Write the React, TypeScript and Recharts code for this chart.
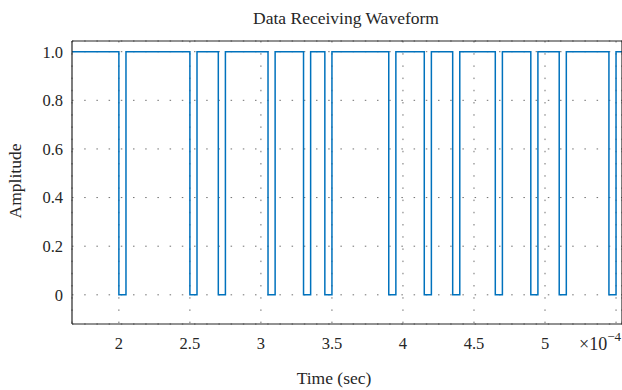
import { CartesianGrid, Line, LineChart, XAxis, YAxis } from 'recharts';

// edge times (x10^-4 s) and the level held after each edge
const edgeTimes = [
  1.67, 2.0, 2.05, 2.5, 2.55, 2.7, 2.75, 3.05, 3.1, 3.3, 3.35, 3.45, 3.5, 3.9,
  3.95, 4.15, 4.2, 4.35, 4.4, 4.65, 4.7, 4.9, 4.95, 5.1, 5.15, 5.45, 5.5, 5.542,
];
const edgeLevels = [
  1, 0, 1, 0, 1, 0, 1, 0, 1, 0, 1, 0, 1, 0, 1, 0, 1, 0, 1, 0, 1, 0, 1, 0, 1, 0,
  1, 1,
];
const xTicks = [2, 2.5, 3, 3.5, 4, 4.5, 5, 5.5];
const yTicks = [0, 0.2, 0.4, 0.6, 0.8, 1.0];
// the right end of the axes lies just past the picture's edge
const xDomain = [1.67, 5.542];
const yDomain = [-0.12, 1.044];

const data = edgeTimes.map((t, i) => ({ t, v: edgeLevels[i] }));

const FONT = '"Liberation Serif", "DejaVu Serif", serif';
const AXIS = '#262626';
const tickFont = { fill: '#262626', fontSize: 16.5, fontFamily: FONT };

export default function App() {
  return (
    <div style={{ position: 'absolute', left: 0, top: 0, background: '#fff' }}>
      <LineChart
        width={622}
        height={390}
        data={data}
        margin={{ top: 41, right: 0, bottom: 36, left: 0 }}
      >
        <CartesianGrid
          stroke="#707070"
          strokeDasharray="1.5 10.7"
          strokeWidth={1}
        />

        <XAxis
          dataKey="t"
          type="number"
          domain={xDomain}
          allowDataOverflow
          ticks={xTicks}
          tickFormatter={v => (v === 5.5 ? '' : `${v}`)}
          height={30}
          tickLine={false}
          tickSize={0}
          tickMargin={13}
          tick={tickFont}
          axisLine={{ stroke: AXIS, strokeWidth: 1.2 }}
        />
        <XAxis
          xAxisId="bm"
          dataKey="t"
          type="number"
          domain={xDomain}
          allowDataOverflow
          ticks={xTicks}
          mirror
          tick={false}
          tickSize={5}
          tickLine={{ stroke: AXIS, strokeWidth: 1.2 }}
          axisLine={false}
        />
        <XAxis
          xAxisId="top"
          orientation="top"
          dataKey="t"
          type="number"
          domain={xDomain}
          allowDataOverflow
          ticks={xTicks}
          mirror
          tick={false}
          tickSize={5}
          tickLine={{ stroke: AXIS, strokeWidth: 1.2 }}
          axisLine={{ stroke: AXIS, strokeWidth: 1.2 }}
        />

        <YAxis
          type="number"
          domain={yDomain}
          allowDataOverflow
          ticks={yTicks}
          tickFormatter={v => (v === 0 ? '0' : v.toFixed(1))}
          width={72}
          tickLine={false}
          tickSize={0}
          tickMargin={9}
          tick={tickFont}
          axisLine={{ stroke: AXIS, strokeWidth: 1.2 }}
        />
        <YAxis
          yAxisId="lm"
          type="number"
          domain={yDomain}
          allowDataOverflow
          ticks={yTicks}
          mirror
          tick={false}
          tickSize={5}
          tickLine={{ stroke: AXIS, strokeWidth: 1.2 }}
          axisLine={false}
        />
        <YAxis
          yAxisId="right"
          orientation="right"
          type="number"
          domain={yDomain}
          allowDataOverflow
          ticks={yTicks}
          mirror
          tick={false}
          tickSize={5}
          tickLine={{ stroke: AXIS, strokeWidth: 1.2 }}
          axisLine={{ stroke: AXIS, strokeWidth: 1.2 }}
        />

        <Line
          type="stepAfter"
          dataKey="v"
          stroke="#0072BD"
          strokeWidth={1.5}
          dot={false}
          activeDot={false}
          isAnimationActive={false}
        />

        <text
          x={346}
          y={24}
          textAnchor="middle"
          fontFamily={FONT}
          fontSize={17.5}
          fill="#262626"
        >
          Data Receiving Waveform
        </text>
        <text
          x={334}
          y={384}
          textAnchor="middle"
          fontFamily={FONT}
          fontSize={17.5}
          fill="#262626"
        >
          Time (sec)
        </text>
        <text
          x={21}
          y={181}
          textAnchor="middle"
          fontFamily={FONT}
          fontSize={17.5}
          fill="#262626"
          transform="rotate(-90 21 181)"
        >
          Amplitude
        </text>
        <text x={579} y={350} fontFamily={FONT} fontSize={18} fill="#262626">
          ×10
          <tspan dy={-9} fontSize={13}>
            −4
          </tspan>
        </text>
      </LineChart>
    </div>
  );
}
